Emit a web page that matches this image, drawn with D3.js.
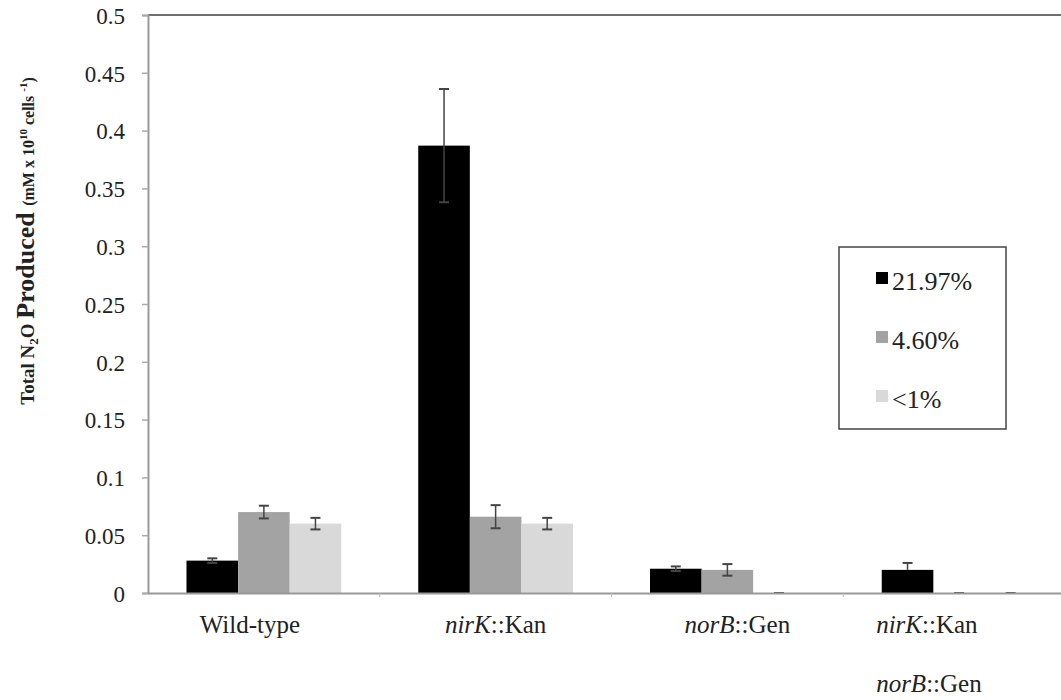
<!DOCTYPE html>
<html>
<head>
<meta charset="utf-8">
<script src="https://cdnjs.cloudflare.com/ajax/libs/d3/7.8.5/d3.min.js"></script>
<style>
  body { margin: 0; background: #fff; }
</style>
</head>
<body>
<svg id="chart" width="1061" height="700"></svg>
<script>
"use strict";

// Data
var strains = ["Wild-type", "nirK::Kan", "norB::Gen", "nirK::Kan norB::Gen"];
var series = ["21.97%", "4.60%", "<1%"];
var colors = ["#000000", "#a3a3a3", "#d9d9d9"];

var values = [
	[0.028, 0.070, 0.060],
	[0.387, 0.066, 0.060],
	[0.021, 0.020, 0.000],
	[0.020, 0.000, 0.000]
];
var errorsUp = [
	[0.002, 0.0055, 0.005],
	[0.049, 0.010, 0.005],
	[0.002, 0.005, 0.000],
	[0.006, 0.000, 0.000]
];
var errorsDown = [
	[0.002, 0.0055, 0.005],
	[0.049, 0.010, 0.005],
	[0.002, 0.005, 0.000],
	[0.000, 0.000, 0.000]
];
var yTicks = [0, 0.05, 0.1, 0.15, 0.2, 0.25, 0.3, 0.35, 0.4, 0.45, 0.5];

//
// Setup Variables
//
var serif = "Liberation Serif";
var svg = d3.select("#chart").attr("font-family", serif);
var x0 = 148, x1 = 1075, yTop = 15, yBottom = 593;

var x = d3.scaleBand()
	.domain(strains)
	.range([x0, x1])
	.paddingInner(0)
	.paddingOuter(0);

var xs = d3.scaleBand()
	.domain(series)
	.range([38.5, x.bandwidth() - 38.5]);

var y = d3.scaleLinear()
	.domain([0, 0.5])
	.range([yBottom, yTop]);

//
// Top frame line
//
svg.append("line")
	.attr("x1", x0).attr("x2", 1061)
	.attr("y1", yTop).attr("y2", yTop)
	.attr("stroke", "#6e6e6e")
	.attr("stroke-width", 2);

//
// Y-Axis
//
var yAxis = d3.axisLeft(y)
	.tickValues(yTicks)
	.tickSize(6)
	.tickPadding(17)
	.tickFormat(function(d) { return d === 0 ? "0" : String(+d.toFixed(2)); });

var gy = svg.append("g")
	.attr("transform", "translate(" + x0 + ",0)")
	.call(yAxis)
	.attr("font-family", serif)
	.attr("font-size", 23);
gy.select(".domain").attr("stroke", "#999").attr("stroke-width", 2);
gy.selectAll(".tick line").attr("stroke", "#aaa").attr("stroke-width", 1.5);
gy.selectAll(".tick text").attr("fill", "#222").attr("dy", "0.36em");

//
// Bars
//
var groups = svg.append("g").selectAll(".group")
	.data(strains)
	.enter()
	.append("g")
	.attr("class", "group")
	.attr("transform", function(d) { return "translate(" + x(d) + ",0)"; });

groups.each(function(strain, i) {
	var g = d3.select(this);
	series.forEach(function(s, j) {
		var v = values[i][j];
		var bx = xs(s);
		var bw = xs.bandwidth();
		if (v > 0) {
			g.append("rect")
				.attr("x", bx)
				.attr("y", y(v))
				.attr("width", bw)
				.attr("height", yBottom - y(v))
				.attr("fill", colors[j]);
		}
		// error bar
		var cx = bx + bw / 2;
		var hi = y(v + errorsUp[i][j]);
		var lo = y(v - errorsDown[i][j]);
		g.append("line")
			.attr("x1", cx).attr("x2", cx)
			.attr("y1", hi).attr("y2", lo)
			.attr("stroke", "#444").attr("stroke-width", 1.5);
		g.append("line")
			.attr("x1", cx - 5).attr("x2", cx + 5)
			.attr("y1", hi).attr("y2", hi)
			.attr("stroke", "#444").attr("stroke-width", 2);
		if (errorsDown[i][j] > 0) {
			g.append("line")
				.attr("x1", cx - 5).attr("x2", cx + 5)
				.attr("y1", lo).attr("y2", lo)
				.attr("stroke", "#444").attr("stroke-width", 2);
		}
	});
});

//
// X-Axis
//
var xAxis = d3.axisBottom(x)
	.tickSize(0)
	.tickFormat("");

var gx = svg.append("g")
	.attr("transform", "translate(0," + yBottom + ")")
	.call(xAxis);
gx.select(".domain").attr("stroke", "#999").attr("stroke-width", 2);

// category boundary ticks
gx.selectAll(".sep")
	.data(strains.slice(1))
	.enter()
	.append("line")
	.attr("x1", function(d) { return x(d); })
	.attr("x2", function(d) { return x(d); })
	.attr("y1", 0).attr("y2", 4)
	.attr("stroke", "#bbb");

// category labels (italic gene names)
var labelParts = {
	"Wild-type": [[["Wild-type", false]]],
	"nirK::Kan": [[["nirK", true], ["::Kan", false]]],
	"norB::Gen": [[["norB", true], ["::Gen", false]]],
	"nirK::Kan norB::Gen": [[["nirK", true], ["::Kan", false]], [["norB", true], ["::Gen", false]]]
};
// label nudges relative to band centre (as placed in the original)
var labelShift = [-14, 0, 10, -30];

strains.forEach(function(s, i) {
	var lines = labelParts[s];
	lines.forEach(function(parts, k) {
		var cx = x(s) + x.bandwidth() / 2 + labelShift[i];
		var t = svg.append("text")
			.attr("x", i === 3 ? cx - 53 : cx)
			.attr("y", 633 + k * 59)
			.attr("text-anchor", i === 3 ? "start" : "middle")
			.attr("font-family", serif)
			.attr("font-size", 25)
			.attr("fill", "#222");
		parts.forEach(function(p) {
			t.append("tspan")
				.attr("font-style", p[1] ? "italic" : "normal")
				.text(p[0]);
		});
	});
});

//
// Y-Axis title
//
var title = svg.append("text")
	.attr("font-family", serif)
	.attr("font-weight", "bold")
	.attr("fill", "#222");
title.append("tspan").attr("font-size", 19).text("Total N");
title.append("tspan").attr("font-size", 13).attr("dy", 4).text("2");
title.append("tspan").attr("font-size", 19).attr("dy", -4).text("O ");
title.append("tspan").attr("font-size", 26).text("Produced ");
title.append("tspan").attr("font-size", 16).text("(mM x 10");
title.append("tspan").attr("font-size", 11).attr("dy", -7).text("10");
title.append("tspan").attr("font-size", 16).attr("dy", 7).text(" cells ");
title.append("tspan").attr("font-size", 11).attr("dy", -7).text("-1");
title.append("tspan").attr("font-size", 16).attr("dy", 7).text(")");
// centre the title on the reference span
var tl = title.node().getComputedTextLength();
title.attr("transform", "translate(34," + (241 + tl / 2) + ") rotate(-90)");

//
// Legend
//
var legend = svg.append("g").attr("transform", "translate(839,247)");
legend.append("rect")
	.attr("width", 167).attr("height", 182)
	.attr("fill", "#fff")
	.attr("stroke", "#444").attr("stroke-width", 1.5);

var items = legend.selectAll(".item")
	.data(series)
	.enter()
	.append("g")
	.attr("class", "item")
	.attr("transform", function(d, i) { return "translate(37," + (43 + i * 59) + ")"; });
items.append("rect")
	.attr("x", 0).attr("y", -18)
	.attr("width", 12).attr("height", 12)
	.attr("fill", function(d, i) { return colors[i]; });
items.append("text")
	.attr("x", 16).attr("y", 0)
	.attr("font-family", serif)
	.attr("font-size", 26)
	.attr("fill", "#222")
	.text(function(d) { return d; });
</script>
</body>
</html>
